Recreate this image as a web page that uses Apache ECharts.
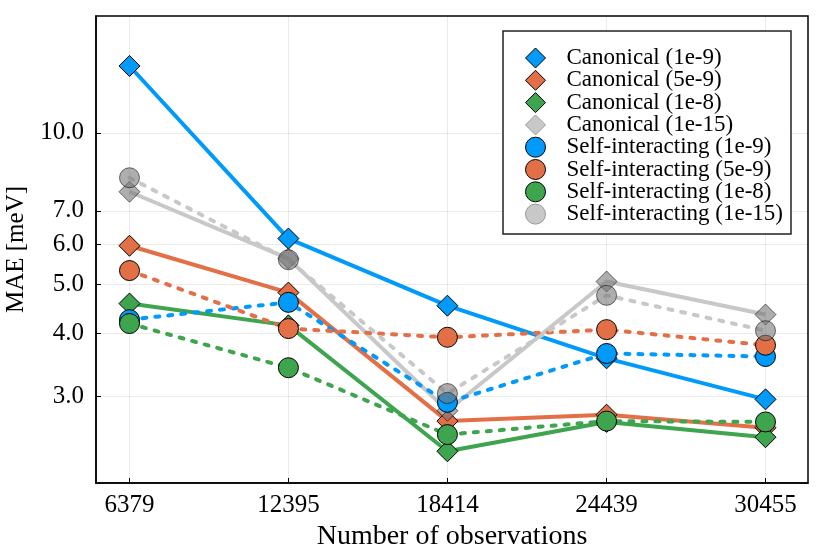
<!DOCTYPE html>
<html>
<head>
<meta charset="utf-8">
<script src="https://cdn.jsdelivr.net/npm/echarts@6/dist/echarts.min.js"></script>
<style>html,body{margin:0;padding:0;background:#fff}#c{width:830px;height:554px}</style>
</head>
<body>
<div id="c"></div>
<script>
const xValues = [6379, 12395, 18414, 24439, 30455];
const yTicks = [3, 4, 5, 6, 7, 10];

const canonical1e9  = [13.57, 6.17, 4.54, 3.57, 2.96];
const canonical5e9  = [5.97, 4.82, 2.68, 2.76, 2.60];
const canonical1e8  = [4.585, 4.15, 2.335, 2.67, 2.49];
const canonical1e15 = [7.64, 5.63, 2.81, 5.07, 4.36];
const selfInt1e9    = [4.26, 4.61, 2.92, 3.65, 3.60];
const selfInt5e9    = [5.33, 4.09, 3.93, 4.07, 3.79];
const selfInt1e8    = [4.185, 3.42, 2.52, 2.68, 2.67];
const selfInt1e15   = [8.145, 5.60, 3.04, 4.76, 4.05];

const seriesDefs = [
  {name: 'Canonical (1e-9)', vals: canonical1e9, color: '#009AFA', dashed: false},
  {name: 'Canonical (5e-9)', vals: canonical5e9, color: '#E36F47', dashed: false},
  {name: 'Canonical (1e-8)', vals: canonical1e8, color: '#3EA44E', dashed: false},
  {name: 'Canonical (1e-15)', vals: canonical1e15, color: '#C8C8C8', dashed: false, gray: true},
  {name: 'Self-interacting (1e-9)', vals: selfInt1e9, color: '#009AFA', dashed: true},
  {name: 'Self-interacting (5e-9)', vals: selfInt5e9, color: '#E36F47', dashed: true},
  {name: 'Self-interacting (1e-8)', vals: selfInt1e8, color: '#3EA44E', dashed: true},
  {name: 'Self-interacting (1e-15)', vals: selfInt1e15, color: '#C8C8C8', dashed: true, gray: true}
];

const FONT = 'Liberation Serif';
const chart = echarts.init(document.getElementById('c'), null, {renderer: 'canvas'});

const series = seriesDefs.map(d => ({
  name: d.name,
  type: 'line',
  data: xValues.map((x, i) => [x, d.vals[i]]),
  symbol: d.dashed ? 'circle' : 'diamond',
  symbolSize: d.dashed ? 20 : 21,
  showSymbol: true,
  animation: false,
  lineStyle: {
    color: d.color,
    width: 4,
    type: d.dashed ? [4, 9] : 'solid',
    cap: d.dashed ? 'round' : 'butt'
  },
  itemStyle: {
    color: d.gray ? 'rgba(120,120,120,0.6)' : d.color,
    borderColor: d.gray ? 'rgba(0,0,0,0.55)' : '#000',
    borderWidth: 1,
    opacity: 1
  },
  emphasis: {disabled: true}
}));

const legendData = seriesDefs.map(d => ({
  name: d.name,
  icon: d.dashed ? 'circle' : 'diamond',
  itemStyle: {
    color: d.color,
    borderColor: d.gray ? '#999' : '#000',
    borderWidth: 1
  }
}));

chart.setOption({
  animation: false,
  backgroundColor: '#fff',
  grid: {
    left: 96, right: 22, top: 16, bottom: 71,
    show: true, borderColor: '#000', borderWidth: 1.5,
    outerBoundsMode: 'none'
  },
  legend: {
    data: legendData,
    orient: 'vertical',
    left: 503, top: 31,
    padding: [15.5, 8, 8.4, 22],
    itemWidth: 20, itemHeight: 20, itemGap: -0.7,
    borderColor: '#222', borderWidth: 1.5,
    backgroundColor: '#fff',
    textStyle: {fontFamily: FONT, fontSize: 23, color: '#000', padding: [0, 0, 0, 16]},
    selectedMode: false
  },
  xAxis: {
    type: 'value',
    min: 5111, max: 32064,
    name: 'Number of observations',
    nameLocation: 'middle', nameGap: 40,
    nameTextStyle: {fontFamily: FONT, fontSize: 28, color: '#000'},
    axisLine: {show: true, lineStyle: {color: '#000', width: 1.5}},
    axisTick: {show: true, inside: true, length: 5, customValues: xValues, lineStyle: {color: '#000', width: 1}},
    axisLabel: {customValues: xValues, fontFamily: FONT, fontSize: 25, color: '#000', margin: 10,
      formatter: v => String(Math.round(v))},
    splitLine: {show: true, lineStyle: {color: 'rgba(0,0,0,0.08)', width: 1}}
  },
  yAxis: {
    type: 'log',
    logBase: 10,
    min: 2.02, max: 17.05,
    name: 'MAE [meV]',
    nameLocation: 'middle', nameGap: 64, nameRotate: 90,
    nameTextStyle: {fontFamily: FONT, fontSize: 25, color: '#000'},
    axisLine: {show: true, lineStyle: {color: '#000', width: 1.5}},
    axisTick: {show: true, inside: true, length: 5, customValues: yTicks, lineStyle: {color: '#000', width: 1}},
    axisLabel: {customValues: yTicks, fontFamily: FONT, fontSize: 25, color: '#000', margin: 12,
      formatter: v => Number(v).toFixed(1)},
    splitLine: {show: true, lineStyle: {color: 'rgba(0,0,0,0.08)', width: 1}}
  },
  series: series
});
</script>
</body>
</html>
